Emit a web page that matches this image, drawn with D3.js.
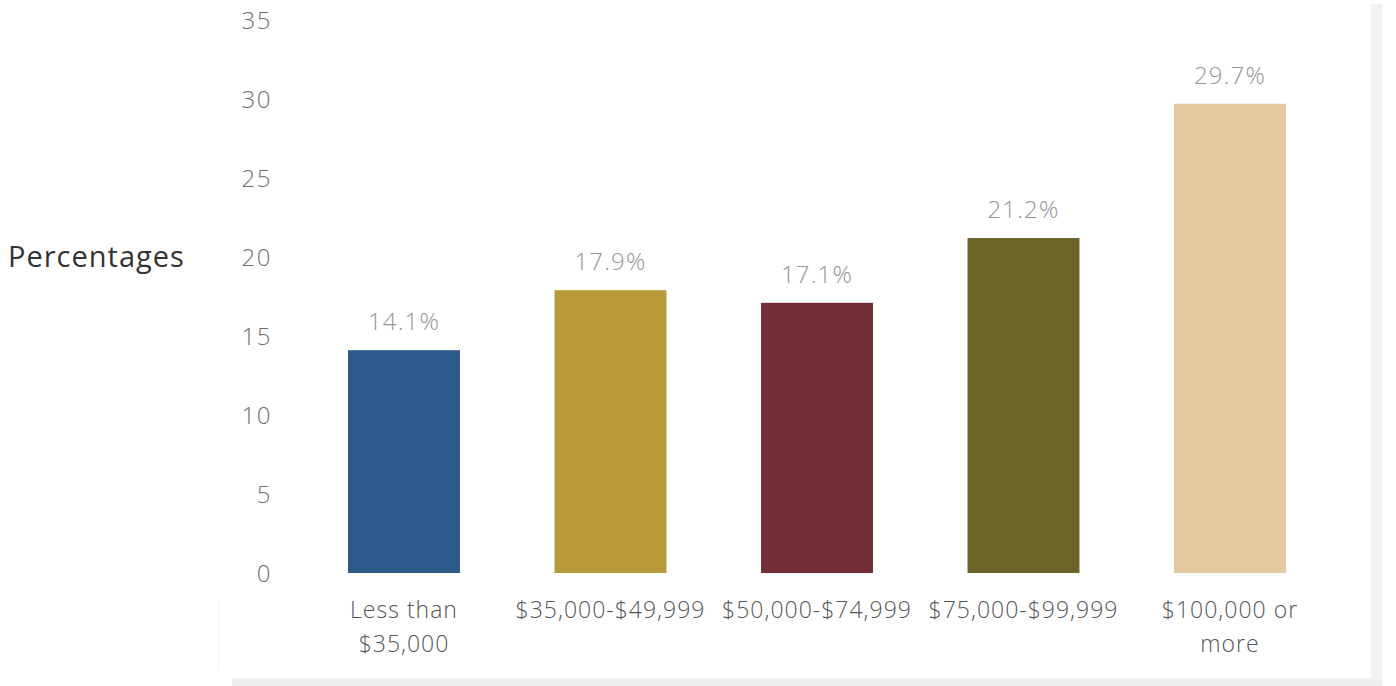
<!DOCTYPE html>
<html>
<head>
<meta charset="utf-8">
<script src="https://cdn.jsdelivr.net/npm/d3@7"></script>
<style>
  html, body { margin: 0; padding: 0; background: #ffffff; }
  svg { display: block; }
  text { font-family: "Open Sans", "Noto Sans", sans-serif; }
</style>
</head>
<body>
<svg id="chart" width="1396" height="686"></svg>
<script>
// Share of respondents by household income bracket
const categories = [
  ["Less than", "$35,000"],
  ["$35,000-$49,999"],
  ["$50,000-$74,999"],
  ["$75,000-$99,999"],
  ["$100,000 or", "more"]
];
const values = [14.1, 17.9, 17.1, 21.2, 29.7];
const barColors = ["#2b5a8b", "#b89a38", "#732d37", "#6c6429", "#e3c99f"];
const yTicks = [0, 5, 10, 15, 20, 25, 30, 35];
const yTitle = "Percentages";

const svg = d3.select("#chart");
const W = 1396, H = 686;

// card panel with a soft edge on the right and bottom
svg.append("rect").attr("x", 0).attr("y", 0).attr("width", W).attr("height", H).attr("fill", "#ffffff");
svg.append("rect").attr("x", 1371).attr("y", 4).attr("width", 11).attr("height", 676).attr("fill", "#f2f2f1");
svg.append("rect").attr("x", 232).attr("y", 678).attr("width", 1150).attr("height", 8).attr("fill", "#efefed");
svg.append("rect").attr("x", 217).attr("y", 600).attr("width", 3).attr("height", 70).attr("fill", "#fafafa");

const keys = categories.map(c => c.join(" "));

const x = d3.scaleBand()
  .domain(keys)
  .range([300.75, 1333.25])
  .paddingInner(0.458)
  .paddingOuter(0.229);

const y = d3.scaleLinear()
  .domain([0, 35])
  .range([573, 20]);

// y axis: labels only
const yAxis = svg.append("g")
  .attr("transform", "translate(272,0)")
  .call(d3.axisLeft(y).tickValues(yTicks).tickSize(0).tickPadding(0));
yAxis.select(".domain").remove();
yAxis.selectAll("text")
  .attr("font-size", 24)
  .attr("font-weight", 300)
  .attr("fill", "#707070")
  .attr("letter-spacing", 1.5)
  .attr("dy", "0.35em");

svg.append("text")
  .attr("x", 8)
  .attr("y", 267)
  .attr("font-size", 29)
  .attr("letter-spacing", 1)
  .attr("fill", "#333333")
  .text(yTitle);

// bars
svg.append("g")
  .selectAll("rect")
  .data(values)
  .join("rect")
  .attr("x", (d, i) => x(keys[i]))
  .attr("width", x.bandwidth())
  .attr("y", d => y(d))
  .attr("height", d => y(0) - y(d))
  .attr("fill", (d, i) => barColors[i]);

// value labels
svg.append("g")
  .selectAll("text")
  .data(values)
  .join("text")
  .attr("x", (d, i) => x(keys[i]) + x.bandwidth() / 2)
  .attr("y", d => y(d) - 20)
  .attr("text-anchor", "middle")
  .attr("font-size", 24)
  .attr("font-weight", 300)
  .attr("letter-spacing", 1.2)
  .attr("fill", "#959595")
  .text(d => d.toFixed(1) + "%");

// category labels (x axis)
const xAxis = svg.append("g").attr("transform", `translate(0,${y(0)})`);
categories.forEach((lines, i) => {
  const t = xAxis.append("text")
    .attr("x", x(keys[i]) + x.bandwidth() / 2)
    .attr("y", 45)
    .attr("text-anchor", "middle")
    .attr("font-size", 23)
    .attr("font-weight", 300)
    .attr("letter-spacing", 1)
    .attr("fill", "#555555");
  lines.forEach((ln, j) => {
    t.append("tspan")
      .attr("x", x(keys[i]) + x.bandwidth() / 2)
      .attr("dy", j === 0 ? 0 : 34)
      .text(ln);
  });
});
</script>
</body>
</html>
